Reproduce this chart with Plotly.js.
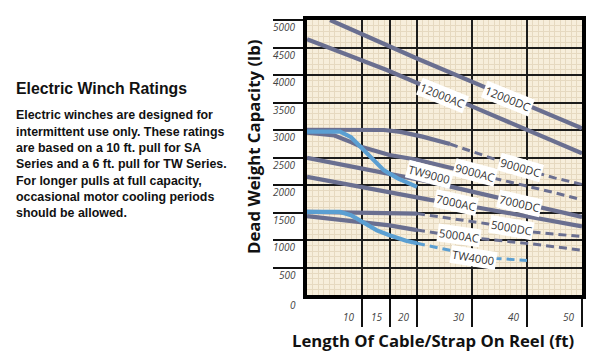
<!DOCTYPE html>
<html>
<head>
<meta charset="utf-8">
<script src="https://cdn.plot.ly/plotly-3.0.1.min.js"></script>
<style>html,body{margin:0;padding:0;background:#fff;}#chart{width:600px;height:360px;}</style>
</head>
<body>
<div id="chart"></div>
<script>
// ---- Data ----
const xTickVals = [10, 15, 20, 30, 40, 50];
const xTickLabels = ['10', '15', '20', '30', '40', '50'];
const yTickVals = [500, 1000, 1500, 2000, 2500, 3000, 3500, 4000, 4500, 5000];
const yTickLabels = ['0', '500', '1000', '1500', '2000', '2500', '3000', '3500', '4000', '4500', '5000'];
const yTickLabelVals = [0, 500, 1000, 1500, 2000, 2500, 3000, 3500, 4000, 4500, 5000];

const x12000DC = [4.2, 20, 35, 50];
const y12000DC = [5000, 4300, 3665, 3030];
const x12000AC = [0, 14.5, 30, 50];
const y12000AC = [4650, 4090, 3430, 2575];

const x9000DCsolid = [0, 14, 17, 21, 26];
const y9000DCsolid = [3005, 3000, 2965, 2880, 2745];
const x9000DCdash = [26, 30, 35, 40, 45, 50];
const y9000DCdash = [2745, 2610, 2430, 2270, 2130, 2010];

const x9000ACsolid = [0, 5, 8, 10, 15, 20, 27];
const y9000ACsolid = [2950, 2900, 2780, 2690, 2545, 2460, 2290];
const x9000ACdash = [27, 34.3, 40, 45, 50];
const y9000ACdash = [2290, 2120, 1990, 1860, 1730];

const xTW9000 = [0, 6, 8, 10, 12, 14, 16.5, 20];
const yTW9000 = [2970, 2970, 2870, 2670, 2450, 2265, 2120, 1965];

const x7000DC = [0, 10, 22.4, 30, 40, 50];
const y7000DC = [2495, 2295, 2057, 1880, 1650, 1418];
const x7000AC = [0, 15, 22.4, 30, 40, 50];
const y7000AC = [2150, 1870, 1730, 1610, 1430, 1248];

const x5000DCsolid = [0, 18, 20];
const y5000DCsolid = [1510, 1500, 1480];
const x5000DCdash = [20, 23.6, 32.7, 40.6, 50];
const y5000DCdash = [1480, 1430, 1297, 1150, 1062];

const x5000ACsolid = [0, 9.7, 15, 20];
const y5000ACsolid = [1436, 1327, 1266, 1180];
const x5000ACdash = [20, 24.2, 31.8, 40.6, 50];
const y5000ACdash = [1180, 1115, 1023, 932, 815];

const xTW4000solid = [0, 6, 8, 10, 12.7, 15, 18, 20];
const yTW4000solid = [1510, 1510, 1450, 1330, 1175, 1085, 985, 940];
const xTW4000dash = [20, 23, 26, 30, 34.5, 40];
const yTW4000dash = [940, 870, 812, 745, 665, 628];

const curveLabels = ['12000AC', '12000DC', '9000DC', '9000AC', 'TW9000', '7000AC', '7000DC', '5000DC', '5000AC', 'TW4000'];
const curveLabelX = [24.65, 36.5, 38.8, 30.6, 22.3, 27, 38.7, 37.1, 27.7, 30.3];
const curveLabelY = [3626, 3578, 2319, 2228, 2197, 1680, 1662, 1236, 1084, 688];
const curveLabelAngle = [22, 22, 16, 15, 15, 12, 13, 10, 8, 9];

const introTitle = 'Electric Winch Ratings';
const introLines = [
  'Electric winches are designed for',
  'intermittent use only. These ratings',
  'are based on a 10 ft. pull for SA',
  'Series and a 6 ft. pull for TW Series.',
  'For longer pulls at full capacity,',
  'occasional motor cooling periods',
  'should be allowed.'
];

// ---- Styling ----
const SA = '#6a6f90';
const TW = '#5b9fd2';
const L = 307, T = 20, W = 275, H = 275;
function px(xp) { return (xp - L) / W; }
function py(yp) { return (T + H - yp) / H; }

function solid(x, y, c, name) {
  return {x: x, y: y, mode: 'lines', name: name, line: {color: c, width: 4.2}, hoverinfo: 'skip'};
}
function dashed(x, y, c, name) {
  return {x: x, y: y, mode: 'lines', name: name, line: {color: c, width: 3, dash: '8px,5px'}, hoverinfo: 'skip'};
}

const traces = [
  solid(x12000DC, y12000DC, SA, '12000DC'),
  solid(x12000AC, y12000AC, SA, '12000AC'),
  solid(x9000DCsolid, y9000DCsolid, SA, '9000DC'),
  dashed(x9000DCdash, y9000DCdash, SA, '9000DC'),
  solid(x9000ACsolid, y9000ACsolid, SA, '9000AC'),
  dashed(x9000ACdash, y9000ACdash, SA, '9000AC'),
  solid(x7000DC, y7000DC, SA, '7000DC'),
  solid(x7000AC, y7000AC, SA, '7000AC'),
  solid(x5000DCsolid, y5000DCsolid, SA, '5000DC'),
  dashed(x5000DCdash, y5000DCdash, SA, '5000DC'),
  solid(x5000ACsolid, y5000ACsolid, SA, '5000AC'),
  dashed(x5000ACdash, y5000ACdash, SA, '5000AC'),
  solid(xTW9000, yTW9000, TW, 'TW9000'),
  solid(xTW4000solid, yTW4000solid, TW, 'TW4000'),
  dashed(xTW4000dash, yTW4000dash, TW, 'TW4000')
];

const annotations = [];
const tickFont = {family: 'Open Sans, sans-serif', size: 10, color: '#444', style: 'italic'};
yTickLabelVals.forEach(function (v, i) {
  annotations.push({xref: 'paper', x: 0, xanchor: 'right', xshift: -9,
    yref: 'y', y: v, yanchor: 'middle', yshift: v === 0 ? -10 : -7,
    text: yTickLabels[i], showarrow: false, font: tickFont});
});
xTickVals.forEach(function (v, i) {
  annotations.push({xref: 'x', x: v, xanchor: 'right', xshift: -5,
    yref: 'paper', y: 0, yanchor: 'middle', yshift: -22,
    text: xTickLabels[i], showarrow: false, font: tickFont});
});
curveLabels.forEach(function (t, i) {
  annotations.push({xref: 'x', yref: 'y', x: curveLabelX[i], y: curveLabelY[i],
    text: t, showarrow: false, textangle: curveLabelAngle[i],
    bgcolor: '#ffffff', borderpad: 1,
    font: {family: 'Open Sans, sans-serif', size: 11.3, color: '#333'}});
});
// Axis titles
annotations.push({xref: 'paper', yref: 'paper', x: px(253), y: py(147), textangle: -90,
  text: 'Dead Weight Capacity (lb)', showarrow: false, xanchor: 'center', yanchor: 'middle',
  font: {family: 'Open Sans, sans-serif', size: 16.8, color: '#111', weight: 'bold'}});
annotations.push({xref: 'paper', yref: 'paper', x: px(432.5), y: py(340),
  text: 'Length Of Cable/Strap On Reel (ft)', showarrow: false, xanchor: 'center', yanchor: 'middle',
  font: {family: 'Open Sans, sans-serif', size: 16.7, color: '#111', weight: 'bold'}});
// Intro text block
annotations.push({xref: 'paper', yref: 'paper', x: px(14), y: py(89), xanchor: 'left', yanchor: 'middle',
  text: introTitle, showarrow: false,
  font: {family: 'Liberation Sans, Arial, sans-serif', size: 15.8, color: '#111', weight: 'bold'}});
const lineYs = [115, 131.5, 148, 164.3, 180.6, 196.9, 213.2];
introLines.forEach(function (t, i) {
  annotations.push({xref: 'paper', yref: 'paper', x: px(14), y: py(lineYs[i]), xanchor: 'left', yanchor: 'middle',
    text: t, showarrow: false,
    font: {family: 'Liberation Sans, Arial, sans-serif', size: 12.4, color: '#111', weight: 'bold'}});
});

const axisCommon = {
  showticklabels: false, ticks: 'outside', tickwidth: 2, tickcolor: '#111',
  showgrid: true, gridcolor: '#1c1c1c', gridwidth: 2,
  showline: true, mirror: true, linecolor: '#000', linewidth: 4,
  zeroline: false, fixedrange: true
};

const layout = {
  width: 600, height: 360,
  margin: {l: L, r: 600 - L - W, t: T, b: 360 - T - H, pad: 0},
  paper_bgcolor: '#ffffff', plot_bgcolor: '#f7eedb',
  showlegend: false,
  xaxis: Object.assign({}, axisCommon, {range: [0, 50], tickmode: 'array', tickvals: xTickVals, ticklen: 28,
    minor: {tickmode: 'linear', tick0: 0, dtick: 1, showgrid: true, gridcolor: '#e6d9c0', gridwidth: 1, ticks: ''}}),
  yaxis: Object.assign({}, axisCommon, {range: [0, 5000], tickmode: 'array', tickvals: yTickVals, ticklen: 30,
    minor: {tickmode: 'linear', tick0: 0, dtick: 100, showgrid: true, gridcolor: '#e6d9c0', gridwidth: 1, ticks: ''}}),
  annotations: annotations
};

Plotly.newPlot('chart', traces, layout, {staticPlot: true, displayModeBar: false});
</script>
</body>
</html>
